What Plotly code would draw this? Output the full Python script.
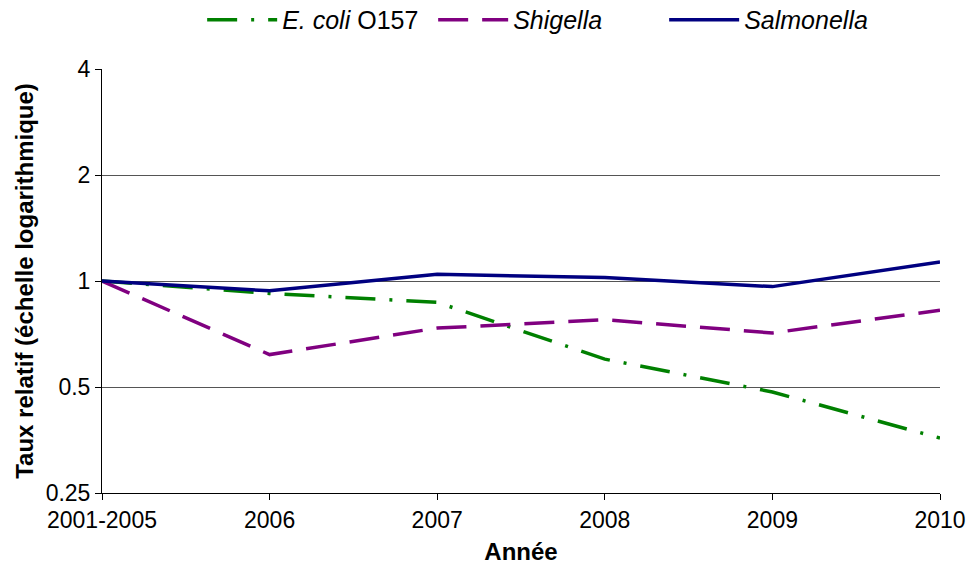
import plotly.graph_objects as go

years = ["2001-2005", "2006", "2007", "2008", "2009", "2010"]
ecoli = [1.0, 0.922, 0.870, 0.600, 0.484, 0.358]
shigella = [1.0, 0.618, 0.735, 0.776, 0.712, 0.826]
salmonella = [1.0, 0.938, 1.045, 1.023, 0.964, 1.133]
y_ticks = [0.25, 0.5, 1, 2, 4]
y_ticktext = ["0.25", "0.5", "1", "2", "4"]

FONT = "Liberation Sans, Arial, sans-serif"

fig = go.Figure()
fig.add_trace(go.Scatter(x=years, y=ecoli, mode="lines", name="<i>E. coli</i> O157",
                         line=dict(color="#008000", width=3.5, dash="30px,14px,3px,14px")))
fig.add_trace(go.Scatter(x=years, y=shigella, mode="lines", name="<i>Shigella</i>",
                         line=dict(color="#800080", width=3.5, dash="30px,14px")))
fig.add_trace(go.Scatter(x=years, y=salmonella, mode="lines", name="<i>Salmonella</i>",
                         line=dict(color="#000080", width=3.5)))

fig.update_layout(
    width=969, height=565,
    margin=dict(l=102, r=29, t=69, b=72, autoexpand=False),
    paper_bgcolor="white", plot_bgcolor="white",
    font=dict(family=FONT, size=23, color="black"),
    showlegend=True,
    legend=dict(orientation="h", x=0.533, xanchor="center", y=1.1156, yanchor="middle",
                font=dict(size=25), itemwidth=70, entrywidth=146, entrywidthmode="pixels",
                traceorder="normal", bgcolor="rgba(0,0,0,0)"),
    xaxis=dict(type="category", range=[0, 5], showgrid=False, showline=True,
               linecolor="black", linewidth=1, ticks="outside", ticklen=6,
               tickcolor="black", tickfont=dict(size=23), automargin=False,
               title=dict(text="<b>Année</b>", font=dict(size=24), standoff=14)),
    yaxis=dict(type="log", range=[-0.60206, 0.60206], tickvals=y_ticks, ticktext=y_ticktext,
               showgrid=True, gridcolor="#555555", gridwidth=1, showline=True,
               linecolor="black", linewidth=1, ticks="outside", ticklen=6,
               tickcolor="black", tickfont=dict(size=23), zeroline=False, automargin=False,
               title=dict(text="<b>Taux relatif (échelle logarithmique)</b>",
                          font=dict(size=24), standoff=5)),
)

fig.write_html("out.html", config={"displayModeBar": False},
               post_script="document.body.style.margin='0';document.body.style.overflow='hidden';")
